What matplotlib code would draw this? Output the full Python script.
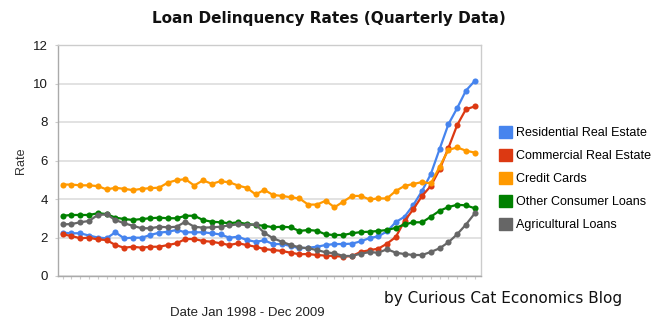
import matplotlib
matplotlib.use("Agg")
import matplotlib.pyplot as plt
from matplotlib.patches import Patch
import numpy as np

plt.rcParams['font.family'] = ['Liberation Sans', 'DejaVu Sans']

quarters = [f"{y} Q{q}" for y in range(1998, 2010) for q in range(1, 5)]

residential = [2.25, 2.22, 2.22, 2.10, 2.00, 1.96, 2.27, 1.96, 1.99, 1.99, 2.13, 2.25,
               2.30, 2.39, 2.27, 2.27, 2.27, 2.22, 2.16, 1.99, 2.04, 1.87, 1.78, 1.85,
               1.66, 1.66, 1.56, 1.44, 1.47, 1.52, 1.61, 1.66, 1.66, 1.68, 1.80, 1.97,
               2.06, 2.32, 2.80, 3.08, 3.69, 4.42, 5.30, 6.60, 7.88, 8.72, 9.63, 10.13]
commercial = [2.16, 2.08, 1.96, 1.99, 1.90, 1.87, 1.61, 1.47, 1.52, 1.47, 1.52, 1.52,
              1.61, 1.70, 1.92, 1.92, 1.82, 1.78, 1.70, 1.61, 1.70, 1.61, 1.52, 1.40,
              1.35, 1.30, 1.21, 1.13, 1.14, 1.09, 1.06, 1.04, 1.00, 1.04, 1.25, 1.34,
              1.42, 1.68, 2.03, 2.86, 3.47, 4.16, 4.68, 5.54, 6.65, 7.84, 8.66, 8.81]
credit_cards = [4.75, 4.75, 4.71, 4.71, 4.67, 4.50, 4.58, 4.53, 4.46, 4.53, 4.56, 4.59,
                4.85, 4.98, 5.03, 4.70, 4.97, 4.79, 4.92, 4.87, 4.70, 4.58, 4.24, 4.47,
                4.21, 4.16, 4.09, 4.03, 3.71, 3.71, 3.91, 3.57, 3.86, 4.16, 4.16, 3.98,
                4.03, 4.03, 4.42, 4.68, 4.78, 4.88, 4.81, 5.68, 6.55, 6.68, 6.51, 6.41]
other_consumer = [3.13, 3.17, 3.17, 3.17, 3.26, 3.22, 3.03, 2.96, 2.91, 2.96, 3.00, 3.03,
                  3.00, 3.00, 3.13, 3.13, 2.91, 2.82, 2.79, 2.74, 2.79, 2.70, 2.65, 2.61,
                  2.53, 2.56, 2.53, 2.34, 2.39, 2.35, 2.16, 2.13, 2.13, 2.22, 2.28, 2.30,
                  2.34, 2.39, 2.50, 2.68, 2.79, 2.79, 3.08, 3.39, 3.58, 3.70, 3.67, 3.52]
agricultural = [2.68, 2.70, 2.79, 2.86, 3.17, 3.20, 2.91, 2.74, 2.61, 2.48, 2.48, 2.56,
                2.53, 2.56, 2.82, 2.56, 2.51, 2.53, 2.56, 2.63, 2.68, 2.65, 2.68, 2.24,
                1.96, 1.78, 1.61, 1.49, 1.44, 1.35, 1.23, 1.18, 1.04, 1.04, 1.16, 1.24,
                1.21, 1.39, 1.21, 1.14, 1.09, 1.09, 1.25, 1.44, 1.75, 2.17, 2.67, 3.25]

series_names = ["Residential Real Estate", "Commercial Real Estate", "Credit Cards",
                "Other Consumer Loans", "Agricultural Loans"]
series_colors = ["#4684ee", "#dc3912", "#ff9900", "#008000", "#666666"]
y_ticks = [0, 2, 4, 6, 8, 10, 12]

fig = plt.figure(figsize=(6.6, 3.3), dpi=100)
ax = fig.add_axes([58/660, 1-276/330, (481-58)/660, (276-45)/330])

x = np.arange(len(quarters))
for vals, name, col in zip([residential, commercial, credit_cards, other_consumer, agricultural],
                           series_names, series_colors):
    ax.plot(x, vals, color=col, lw=1.6, marker='o', ms=4.4, mew=0, label=name)

ax.set_xlim(-0.54, len(quarters) - 1 + 0.72)
ax.set_ylim(0, 12)
ax.set_yticks(y_ticks)
ax.set_yticklabels([str(t) for t in y_ticks], fontsize=9.5, color='#1a1a1a')
ax.set_xticks(x)
ax.set_xticklabels([])
ax.tick_params(axis='x', length=2.5, color='#cccccc', width=0.8)
ax.tick_params(axis='y', length=2.5, color='#cccccc', width=0.8, pad=5)
ax.grid(axis='y', color='#dddddd', lw=1.2)
ax.set_axisbelow(True)
for s in ax.spines.values():
    s.set_color('#cccccc')
    s.set_linewidth(1.0)
ax.spines['left'].set_color('#aaaaaa')
ax.spines['bottom'].set_color('#aaaaaa')

ax.set_ylabel("Rate", fontsize=9, color='#333333', labelpad=4)

fig.text(329/660, 1-18/330, "Loan Delinquency Rates (Quarterly Data)", ha='center', va='center',
         fontsize=11, fontweight='bold', family='DejaVu Sans', color='#111111')
fig.text(247/660, 1-313/330, "Date Jan 1998 - Dec 2009", ha='center', va='center',
         fontsize=9.5, color='#222222')
fig.text(503/660, 1-299/330, "by Curious Cat Economics Blog", ha='center', va='center',
         fontsize=11, family='DejaVu Sans', color='#111111')

handles = [Patch(facecolor=c, edgecolor=c) for c in series_colors]
fig.legend(handles, series_names, loc='upper left', bbox_to_anchor=(494/660, 1-121/330),
           frameon=False, fontsize=9, handlelength=1.05, handleheight=1.05,
           handletextpad=0.3, labelspacing=0.8, borderaxespad=0)

fig.savefig("out.png", dpi=100)
